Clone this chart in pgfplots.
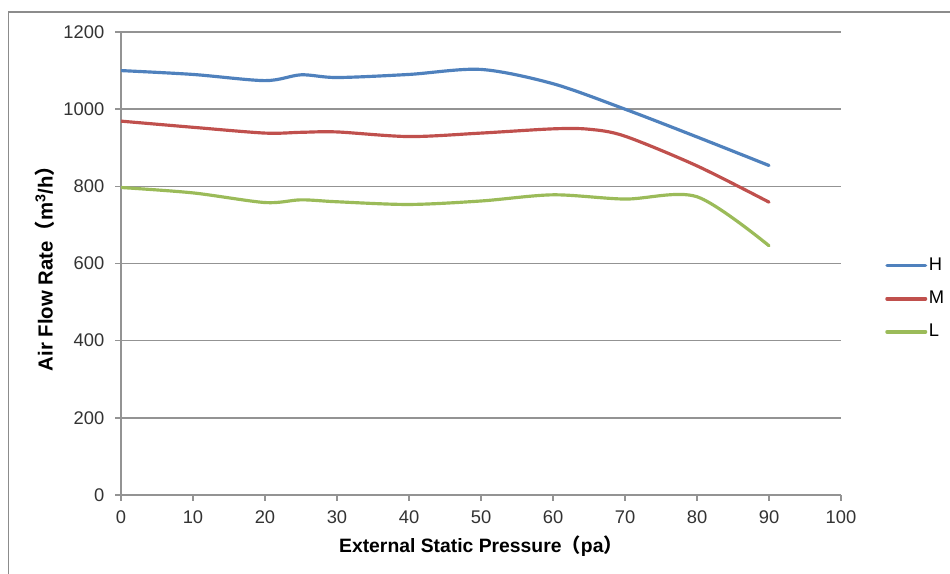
\documentclass[border=0pt]{standalone}
\usepackage{fontspec}
\setmainfont{Liberation Sans}
\newfontfamily\cjk{Noto Sans CJK SC}
\usepackage{pgfplots}
\pgfplotsset{compat=1.18}
\definecolor{cH}{HTML}{4F81BD}
\definecolor{cM}{HTML}{C0504D}
\definecolor{cL}{HTML}{9BBB59}
\definecolor{gridc}{HTML}{939393}
\definecolor{framec}{HTML}{8C8C8C}
\begin{document}
\begin{tikzpicture}
\useasboundingbox (0pt,0pt) rectangle (570pt,-344.4pt);
\fill[white] (0pt,0pt) rectangle (570pt,-344.4pt);
\draw[framec, line width=0.7pt] (5.1pt,-7.2pt) rectangle (580pt,-360pt);
\begin{axis}[
  at={(72.6pt,-297pt)}, anchor=south west,
  scale only axis, width=432pt, height=277.8pt,
  xmin=0, xmax=100, ymin=0, ymax=1200,
  xtick={0,10,...,100}, ytick={0,200,...,1200},
  axis x line*=bottom, axis y line*=left,
  axis line style={gridc, line width=0.8pt, -},
  tick style={gridc, line width=0.8pt},
  tick align=outside, major tick length=3.5pt,
  ymajorgrids, grid style={gridc, line width=0.8pt},
  tick label style={font=\fontsize{11}{13}\selectfont, text=black!80},
  xticklabel style={yshift=-2.5pt},
  yticklabel style={xshift=-3pt},
  /pgf/number format/assume math mode=true,
  /pgf/number format/1000 sep={},
  xlabel={\textbf{External Static Pressure{\cjk\bfseries （}pa{\cjk\bfseries ）}}},
  ylabel={\textbf{Air Flow Rate{\cjk\bfseries （}m\textsuperscript{3}/h{\cjk\bfseries ）}}},
  xlabel style={at={(axis description cs:0.5,-0.110)}, anchor=center, font=\fontsize{11.6}{13}\selectfont},
  ylabel style={at={(axis description cs:-0.1056,0.5)}, anchor=center, rotate=0, font=\fontsize{12.2}{14}\selectfont},
  legend style={at={(1.061,0.424)}, anchor=west, draw=none, fill=none,
    font=\fontsize{11}{13}\selectfont, row sep=8.8pt, inner sep=0pt,
    nodes={inner sep=1pt}},
  legend cell align=left,
  legend image code/.code={\draw[#1, line width=2.2pt] (0pt,0pt) -- (23pt,0pt);},
  every axis plot/.append style={line width=1.9pt, smooth, tension=0.5, line cap=round},
]
\addplot[cH] coordinates {(0,1100) (10,1090) (20,1074) (25,1089) (30,1082) (40,1090) (50,1103) (60,1066) (70,1000) (80,928) (90,854)};
\addlegendentry{H}
\addplot[cM] coordinates {(0,969) (10,953) (20,938) (25,940) (30,941) (40,929) (50,938) (60,949) (65,948) (70,930) (80,853) (90,759)};
\addlegendentry{M}
\addplot[cL] coordinates {(0,797) (10,783) (20,758) (25,765) (30,760) (40,753) (50,762) (60,778) (70,767) (80,773) (90,646)};
\addlegendentry{L}
\end{axis}
\end{tikzpicture}
\end{document}
